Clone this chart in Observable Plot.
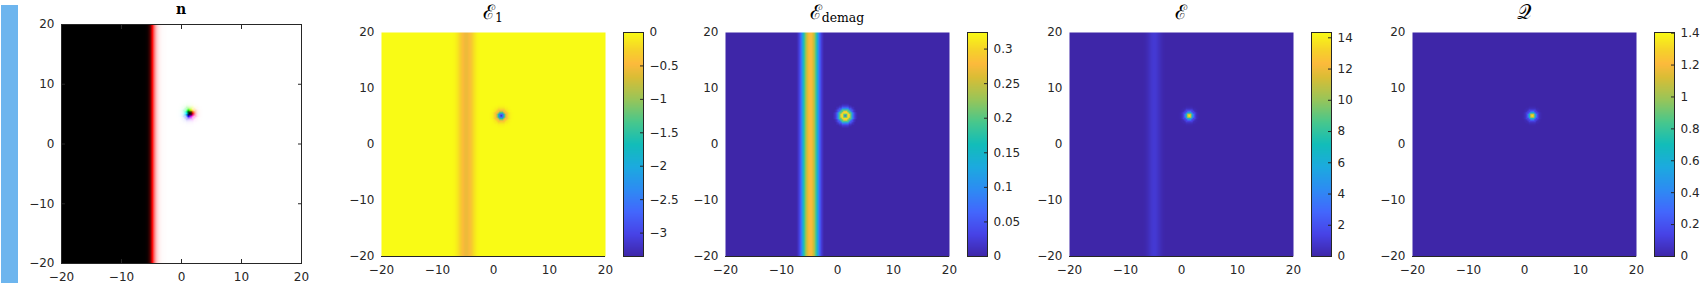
<!DOCTYPE html>
<html><head><meta charset="utf-8">
<script src="https://cdn.jsdelivr.net/npm/d3@7"></script>
<script src="https://cdn.jsdelivr.net/npm/@observablehq/plot@0.6"></script>
<style>
html,body{margin:0;padding:0;background:#fff;overflow:hidden}
#root{position:relative;width:1701px;height:286px;overflow:hidden}
.p{position:absolute}
.title{position:absolute;transform:translateX(-50%);font-family:"DejaVu Serif",serif;color:#000;white-space:nowrap;line-height:1}
.title sub{font-size:0.62em;vertical-align:-0.28em;line-height:0}
.title.bold{line-height:normal}
#sidebar{position:absolute;left:1px;top:5px;width:17px;height:278px;background:#6db5ee}
</style></head><body><div id="root"><div id="sidebar"></div></div>
<script>
// ---------------- data ----------------
const axisTicks = [-20, -10, 0, 10, 20];
const gridStep = 0.25;              // sampling step of the field (units)
const profileStep = 0.25;           // step of the read profiles
const wallCenterX = -4.9;           // domain wall position
const skyrmionCenter = [1.375, 5.125];

// magnetisation n: m_z across the wall (d = -2.5 .. 2.5) and radial m_z of the skyrmion (r = 0 .. 2.5)
const nWallMz = [-1, -1, -1, -1, -0.997, -0.992, -0.977, -0.931, -0.805, -0.505, 0, 0.343, 0.613, 0.79, 0.891, 0.945, 0.973, 0.987, 0.993, 0.997, 1];
const nSkyMz = [-1, -0.7, -0.05, 0.45, 0.75, 0.9, 0.96, 0.985, 0.995, 1, 1];

// energy densities: |d| = 0 .. 2.5 across the wall, r = 0 .. 2.5 around the skyrmion
const e1Wall = [-0.56, -0.54, -0.48, -0.4, -0.31, -0.22, -0.14, -0.08, -0.04, -0.02, 0];
const e1Sky = [-3.34, -2.7, -1.6, -0.85, -0.42, -0.2, -0.09, -0.04, -0.015, 0, 0];
const demagWall = [0.28, 0.275, 0.26, 0.235, 0.195, 0.145, 0.095, 0.055, 0.025, 0.01, 0];
const demagSky = [0.04, 0.2, 0.31, 0.29, 0.2, 0.11, 0.05, 0.02, 0.008, 0, 0];
const eWall = [1.0, 0.95, 0.82, 0.64, 0.45, 0.28, 0.15, 0.07, 0.03, 0.01, 0];
const eSky = [14.3, 11.5, 6.8, 3.3, 1.4, 0.55, 0.2, 0.07, 0.02, 0, 0];
const qWall = [0, 0, 0, 0, 0, 0, 0, 0, 0, 0, 0];
const qSky = [1.4, 1.12, 0.66, 0.31, 0.13, 0.05, 0.02, 0.005, 0, 0, 0];

// colour bar ranges and ticks
const e1Range = [-3.35, 0];
const e1Ticks = [0, -0.5, -1, -1.5, -2, -2.5, -3];
const demagRange = [0, 0.324];
const demagTicks = [0, 0.05, 0.1, 0.15, 0.2, 0.25, 0.3];
const eRange = [0, 14.34];
const eTicks = [0, 2, 4, 6, 8, 10, 12, 14];
const qRange = [0, 1.404];
const qTicks = [0, 0.2, 0.4, 0.6, 0.8, 1, 1.2, 1.4];

// ---------------- styles ----------------
const parulaStops = [
  [0, "#3e26a8"], [0.1, "#4743e7"], [0.2, "#4367fd"], [0.3, "#2d8cf3"], [0.4, "#1caadf"],
  [0.5, "#12bdb9"], [0.6, "#48c78c"], [0.7, "#98c559"], [0.8, "#dabd35"], [0.86, "#fcba3c"],
  [0.92, "#f6d12a"], [1, "#f9fb15"]
];
function parula(t) {
  t = Math.max(0, Math.min(1, t));
  for (let i = 1; i < parulaStops.length; i++) {
    const [t1, c1] = parulaStops[i];
    const [t0, c0] = parulaStops[i - 1];
    if (t <= t1) return d3.interpolateRgb(c0, c1)((t - t0) / (t1 - t0));
  }
  return parulaStops[parulaStops.length - 1][1];
}
const ink = "#262626";
const fmt = d => (d < 0 ? "\u2212" + (-d) : String(d));
const font = {fontFamily: "'DejaVu Sans', sans-serif", fontSize: "12px", color: ink, background: "transparent", overflow: "visible"};

// ---------------- build field table from the profiles ----------------
const nCells = Math.round(40 / gridStep);
const cells = [];
for (let j = 0; j < nCells; j++) {
  const y = -20 + gridStep / 2 + j * gridStep;
  for (let i = 0; i < nCells; i++) {
    const x = -20 + gridStep / 2 + i * gridStep;
    const d = x - wallCenterX;
    const di = Math.round(d / profileStep);
    const dx = x - skyrmionCenter[0], dy = y - skyrmionCenter[1];
    const ri = Math.round(Math.hypot(dx, dy) / profileStep);
    const w = (arr) => (Math.abs(di) < arr.length ? arr[Math.abs(di)] : arr[arr.length - 1]);
    const s = (arr) => (ri < arr.length ? arr[ri] : arr[arr.length - 1]);
    // magnetisation colour
    let mz, hue;
    if (ri < nSkyMz.length) { mz = nSkyMz[ri]; hue = (Math.atan2(dy, dx) * 180 / Math.PI + 360) % 360; }
    else { mz = di < -10 ? -1 : di > 10 ? 1 : nWallMz[di + 10]; hue = 0; }
    cells.push({
      x, y,
      n: d3.hsl(hue, 1, (mz + 1) / 2).formatHex(),
      e1: w(e1Wall) + s(e1Sky),
      demag: w(demagWall) + s(demagSky),
      e: w(eWall) + s(eSky),
      q: w(qWall) + s(qSky)
    });
  }
}

const root = document.getElementById("root");
function place(el, left, top) {
  el.classList.add("p");
  el.style.left = left + "px";
  el.style.top = top + "px";
  root.appendChild(el);
}
function title(html, cx, top, size, cls) {
  const t = document.createElement("div");
  t.className = "title" + (cls ? " " + cls : "");
  t.innerHTML = html;
  t.style.left = cx + "px";
  t.style.top = top + "px";
  t.style.fontSize = size + "px";
  root.appendChild(t);
}

// ---------------- panel 1 : n ----------------
{
  const fx = 61, fy = 24, fw = 240, fh = 239;
  const mL = 45, mR = 6, mT = 4, mB = 22;
  const chart = Plot.plot({
    width: mL + fw + mR, height: mT + fh + mB,
    marginLeft: mL, marginRight: mR, marginTop: mT, marginBottom: mB,
    style: font,
    x: {domain: [-20, 20], label: null},
    y: {domain: [-20, 20], label: null},
    color: {type: "identity"},
    marks: [
      Plot.raster(cells, {x: "x", y: "y", fill: "n", width: nCells, height: nCells, x1: -20, x2: 20, y1: -20, y2: 20}),
      Plot.frame({stroke: ink}),
      Plot.axisX(axisTicks, {anchor: "bottom", tickSize: 0, tickPadding: 9, tickFormat: fmt, fill: ink}),
      Plot.axisY(axisTicks, {anchor: "left", tickSize: 0, tickPadding: 7, tickFormat: fmt, fill: ink}),
      Plot.axisX(axisTicks, {anchor: "bottom", tickSize: -4, tickFormat: () => "", stroke: ink}),
      Plot.axisX(axisTicks, {anchor: "top", tickSize: -4, tickFormat: () => "", stroke: ink}),
      Plot.axisY(axisTicks, {anchor: "left", tickSize: -4, tickFormat: () => "", stroke: ink}),
      Plot.axisY(axisTicks, {anchor: "right", tickSize: -4, tickFormat: () => "", stroke: ink})
    ]
  });
  place(chart, fx - mL, fy - mT);
  title("<b>n</b>", fx + fw / 2, 1, 14, "bold");
}

// ---------------- panels 2..5 ----------------
const panels = [
  {key: "e1", range: e1Range, ticks: e1Ticks, fx: 381, cb: 623, title: "\u2130<sub>1</sub>"},
  {key: "demag", range: demagRange, ticks: demagTicks, fx: 725, cb: 967, title: "\u2130<sub>demag</sub>"},
  {key: "e", range: eRange, ticks: eTicks, fx: 1069, cb: 1311, title: "\u2130"},
  {key: "q", range: qRange, ticks: qTicks, fx: 1412, cb: 1654, title: "\uD835\uDCAC"}
];
for (const p of panels) {
  const fy = 32, fw = 224, fh = 224;
  const mL = 45, mR = 4, mT = 2, mB = 28;
  const color = {type: "linear", domain: p.range, interpolate: () => parula};
  const chart = Plot.plot({
    width: mL + fw + mR, height: mT + fh + mB,
    marginLeft: mL, marginRight: mR, marginTop: mT, marginBottom: mB,
    style: font,
    x: {domain: [-20, 20], label: null},
    y: {domain: [-20, 20], label: null},
    color,
    marks: [
      Plot.raster(cells, {x: "x", y: "y", fill: p.key, width: nCells, height: nCells, x1: -20, x2: 20, y1: -20, y2: 20}),
      Plot.ruleY([-20], {stroke: ink}),
      Plot.axisX(axisTicks, {anchor: "bottom", tickSize: 0, tickPadding: 9, tickFormat: fmt, fill: ink}),
      Plot.axisY(axisTicks, {anchor: "left", tickSize: 0, tickPadding: 7, tickFormat: fmt, fill: ink})
    ]
  });
  place(chart, p.fx - mL, fy - mT);

  // colour bar
  const cmL = 1, cmR = 40, cmT = 2, cmB = 4, cw = 20;
  const bar = Plot.plot({
    width: cmL + cw + cmR, height: cmT + fh + cmB,
    marginLeft: cmL, marginRight: cmR, marginTop: cmT, marginBottom: cmB,
    style: font,
    x: {domain: [0, 1], axis: null},
    y: {domain: p.range, label: null},
    color,
    marks: [
      Plot.raster({fill: (x, y) => y, x1: 0, x2: 1, y1: p.range[0], y2: p.range[1], pixelSize: 1}),
      Plot.frame({stroke: ink}),
      Plot.axisY(p.ticks, {anchor: "right", tickSize: 0, tickPadding: 6, tickFormat: fmt, fill: ink}),
      Plot.axisY(p.ticks, {anchor: "right", tickSize: -4, tickFormat: () => "", stroke: ink})
    ]
  });
  place(bar, p.cb - cmL, fy - cmT);

  title(p.title, p.fx + fw / 2, 2, 20);
}
</script></body></html>
